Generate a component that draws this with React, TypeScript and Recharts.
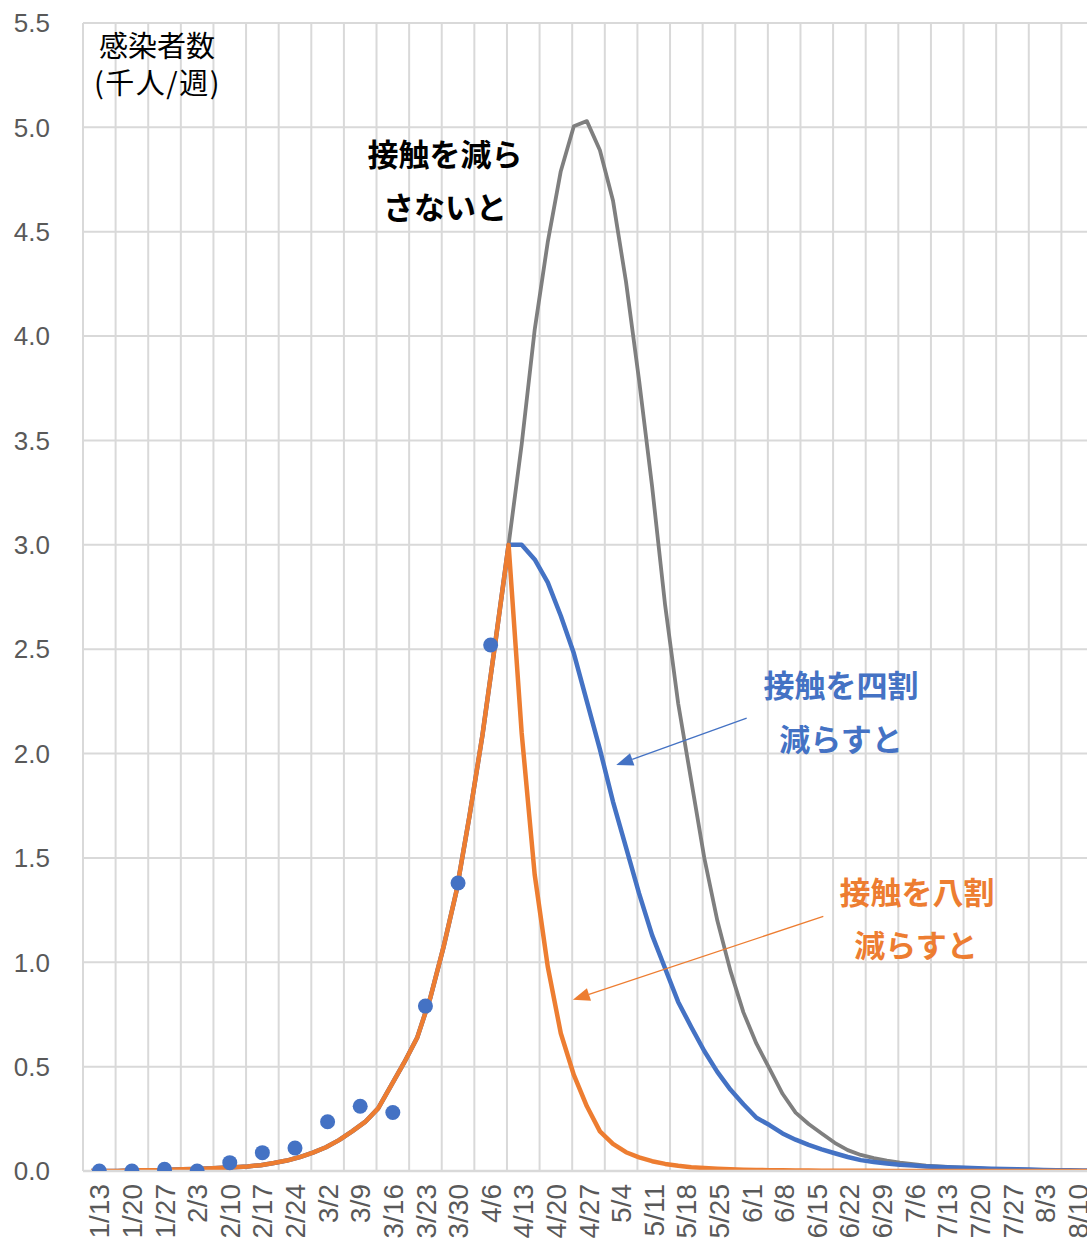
import React from 'react';
import {
  ComposedChart,
  Line,
  Scatter,
  XAxis,
  YAxis,
  CartesianGrid,
  ReferenceLine,
} from 'recharts';

// Weekly category labels (x axis)
const categories = [
  '1/13', '1/20', '1/27', '2/3', '2/10', '2/17', '2/24', '3/2', '3/9', '3/16',
  '3/23', '3/30', '4/6', '4/13', '4/20', '4/27', '5/4', '5/11', '5/18', '5/25',
  '6/1', '6/8', '6/15', '6/22', '6/29', '7/6', '7/13', '7/20', '7/27', '8/3', '8/10',
];

const yTicks = [0, 0.5, 1, 1.5, 2, 2.5, 3, 3.5, 4, 4.5, 5, 5.5];

// Observed weekly counts (blue dots), x = week index
const dotWeeks = [0, 1, 2, 3, 4, 5, 6, 7, 8, 9, 10, 11, 12];
const dotValues = [0, 0, 0.008, 0, 0.04, 0.088, 0.11, 0.236, 0.31, 0.28, 0.79, 1.38, 2.52];

// Model curves, x in weeks (week index of 1/13 = 0)
const lineWeeks = [
  -0.25, 0.15, 0.55, 0.95, 1.35, 1.75, 2.15, 2.55, 2.95, 3.35,
  3.75, 4.15, 4.55, 4.95, 5.35, 5.75, 6.15, 6.55, 6.95, 7.35,
  7.75, 8.15, 8.55, 8.95, 9.35, 9.75, 10.15, 10.55, 10.95, 11.35,
  11.75, 12.15, 12.55, 12.95, 13.35, 13.75, 14.15, 14.55, 14.95, 15.35,
  15.75, 16.15, 16.55, 16.95, 17.35, 17.75, 18.15, 18.55, 18.95, 19.35,
  19.75, 20.15, 20.55, 20.95, 21.35, 21.75, 22.15, 22.55, 22.95, 23.35,
  23.75, 24.15, 24.55, 24.95, 25.35, 25.75, 26.15, 26.55, 26.95, 27.35,
  27.75, 28.15, 28.55, 28.95, 29.35, 29.75, 30.15, 30.5,
];

// Shared rising part (up to the 3.0 peak)
const riseValues = [
  0, 0, 0, 0.002, 0.003, 0.004, 0.006, 0.008, 0.01, 0.012,
  0.015, 0.018, 0.022, 0.028, 0.038, 0.05, 0.067, 0.088, 0.114, 0.148,
  0.19, 0.235, 0.3, 0.41, 0.52, 0.64, 0.83, 1.07, 1.34, 1.7,
  2.09, 2.54, 3.0,
];

// After the peak: no reduction (gray)
const grayFall = [
  3.48, 4.03, 4.45, 4.79, 5.005, 5.03, 4.89, 4.65, 4.26, 3.79,
  3.28, 2.71, 2.24, 1.87, 1.5, 1.2, 0.96, 0.76, 0.61, 0.49,
  0.37, 0.28, 0.225, 0.18, 0.135, 0.1, 0.077, 0.062, 0.05, 0.04,
  0.033, 0.026, 0.022, 0.018, 0.015, 0.012, 0.009, 0.007, 0.005, 0.004,
  0.003, 0.002, 0.002, 0.001, 0.001,
];

// After the peak: 40% reduction (blue)
const blueFall = [
  3.0, 2.93, 2.82, 2.66, 2.48, 2.25, 2.02, 1.77, 1.55, 1.33,
  1.13, 0.97, 0.81, 0.69, 0.575, 0.475, 0.39, 0.32, 0.255, 0.22,
  0.18, 0.15, 0.125, 0.104, 0.085, 0.067, 0.052, 0.043, 0.036, 0.03,
  0.026, 0.022, 0.019, 0.017, 0.015, 0.013, 0.011, 0.009, 0.008, 0.007,
  0.005, 0.004, 0.003, 0.002, 0.002,
];

// After the peak: 80% reduction (orange)
const orangeFall = [
  2.1, 1.42, 0.98, 0.66, 0.46, 0.31, 0.19, 0.13, 0.09, 0.065,
  0.047, 0.034, 0.025, 0.018, 0.014, 0.011, 0.008, 0.006, 0.005, 0.004,
  0.003, 0.002, 0.002, 0.001, 0.001, 0.001, 0.001, 0.001, 0, 0,
  0, 0, 0, 0, 0, 0, 0, 0, 0, 0,
  0, 0, 0, 0, 0,
];

const grayValues = [...riseValues, ...grayFall];
const blueValues = [...riseValues, ...blueFall];
const orangeValues = [...riseValues, ...orangeFall];

const lineTable = lineWeeks.map((x, i) => ({
  x,
  gray: grayValues[i],
  blue: blueValues[i],
  orange: orangeValues[i],
}));

const dotTable = dotWeeks.map((x, i) => ({ x, dots: dotValues[i] }));

const boundaries = [...categories.map((_, i) => i - 0.5), categories.length - 0.5];

const BLUE = '#4472C4';
const ORANGE = '#ED7D31';
const GRAY = '#7F7F7F';
const GRID = '#D9D9D9';
const TEXT = '#595959';
const NUM_FONT = "'Liberation Sans', Arial, sans-serif";
const JP_FONT = "'Noto Sans CJK JP', 'Noto Sans', sans-serif";

const XTick = (props: any) => {
  const { x, y, payload } = props;
  return (
    <text
      x={0}
      y={0}
      transform={`translate(${x},${y + 13}) rotate(-90)`}
      textAnchor="end"
      dy="0.36em"
      fill={TEXT}
      fontSize={28}
      fontFamily={NUM_FONT}
    >
      {categories[payload.value]}
    </text>
  );
};

const makeArrow = (color: string) => (props: any) => {
  const { x1, y1, x2, y2 } = props;
  const dx = x2 - x1;
  const dy = y2 - y1;
  const len = Math.sqrt(dx * dx + dy * dy) || 1;
  const ux = dx / len;
  const uy = dy / len;
  const headLen = 17;
  const headHalf = 6.5;
  const bx = x2 - ux * headLen;
  const by = y2 - uy * headLen;
  const nx = -uy;
  const ny = ux;
  return (
    <g>
      <line x1={x1} y1={y1} x2={bx} y2={by} stroke={color} strokeWidth={1.3} />
      <polygon
        points={`${x2},${y2} ${bx + nx * headHalf},${by + ny * headHalf} ${bx - nx * headHalf},${by - ny * headHalf}`}
        fill={color}
      />
    </g>
  );
};

const blueArrow = [{ x: 19.85, y: 2.17 }, { x: 15.85, y: 1.945 }];
const orangeArrow = [{ x: 22.2, y: 1.22 }, { x: 14.52, y: 0.82 }];

const Note = ({ text, cx, cy, color, size, bold }: any) => (
  <div
    style={{
      position: 'absolute',
      left: cx - 150,
      width: 300,
      top: cy - 25,
      height: 50,
      lineHeight: '50px',
      textAlign: 'center',
      fontFamily: JP_FONT,
      fontSize: size,
      fontWeight: bold ? 700 : 400,
      color,
      whiteSpace: 'nowrap',
    }}
  >
    {text}
  </div>
);

export default function App() {
  return (
    <div
      style={{
        position: 'absolute',
        left: 0,
        top: 0,
        width: 1087,
        height: 1245,
        overflow: 'hidden',
        background: '#fff',
      }}
    >
      <ComposedChart
        width={1100}
        height={1245}
        data={lineTable}
        margin={{ top: 23, right: 6, bottom: 0, left: 0 }}
      >
        <CartesianGrid vertical={false} stroke={GRID} strokeWidth={2} />
        {boundaries.map((b) => (
          <ReferenceLine key={b} x={b} stroke={GRID} strokeWidth={2} />
        ))}
        <XAxis
          dataKey="x"
          type="number"
          domain={[-0.5, 30.5]}
          ticks={categories.map((_, i) => i)}
          interval={0}
          height={74}
          tickLine={false}
          tickSize={0}
          tickMargin={0}
          axisLine={{ stroke: GRID, strokeWidth: 2.5 }}
          tick={<XTick />}
          allowDataOverflow
        />
        <YAxis
          type="number"
          domain={[0, 5.5]}
          ticks={yTicks}
          width={83}
          axisLine={false}
          tickLine={false}
          tickSize={0}
          tickMargin={33}
          tickFormatter={(v: number) => v.toFixed(1)}
          tick={{ fill: TEXT, fontSize: 26, fontFamily: NUM_FONT }}
          allowDataOverflow
        />
        <Scatter
          data={dotTable}
          dataKey="dots"
          isAnimationActive={false}
          shape={(p: any) => <circle cx={p.cx} cy={p.cy} r={7.5} fill={BLUE} />}
        />
        <Line
          type="linear"
          dataKey="gray"
          stroke={GRAY}
          strokeWidth={3.8}
          dot={false}
          activeDot={false}
          strokeLinejoin="round"
          isAnimationActive={false}
        />
        <Line
          type="linear"
          dataKey="blue"
          stroke={BLUE}
          strokeWidth={4.5}
          dot={false}
          activeDot={false}
          strokeLinejoin="round"
          isAnimationActive={false}
        />
        <Line
          type="linear"
          dataKey="orange"
          stroke={ORANGE}
          strokeWidth={4.5}
          dot={false}
          activeDot={false}
          strokeLinejoin="round"
          isAnimationActive={false}
        />
        <ReferenceLine segment={blueArrow} shape={makeArrow(BLUE)} />
        <ReferenceLine segment={orangeArrow} shape={makeArrow(ORANGE)} />
      </ComposedChart>

      <div
        style={{
          position: 'absolute',
          left: 94,
          top: 26,
          lineHeight: '37px',
          fontFamily: JP_FONT,
          fontSize: 29,
          color: '#000',
          whiteSpace: 'nowrap',
        }}
      >
        <span style={{ marginLeft: 5 }}>感染者数</span>
        <br />
        <span style={{ letterSpacing: 1.5 }}>(千人/週)</span>
      </div>

      <Note text="接触を減ら" cx={445} cy={153} color="#000" size={31} bold />
      <Note text="さないと" cx={445} cy={206} color="#000" size={31} bold />

      <Note text="接触を四割" cx={841} cy={684} color={BLUE} size={31} bold />
      <Note text="減らすと" cx={841} cy={738} color={BLUE} size={31} bold />

      <Note text="接触を八割" cx={917} cy={891} color={ORANGE} size={31} bold />
      <Note text="減らすと" cx={916} cy={944} color={ORANGE} size={31} bold />
    </div>
  );
}
